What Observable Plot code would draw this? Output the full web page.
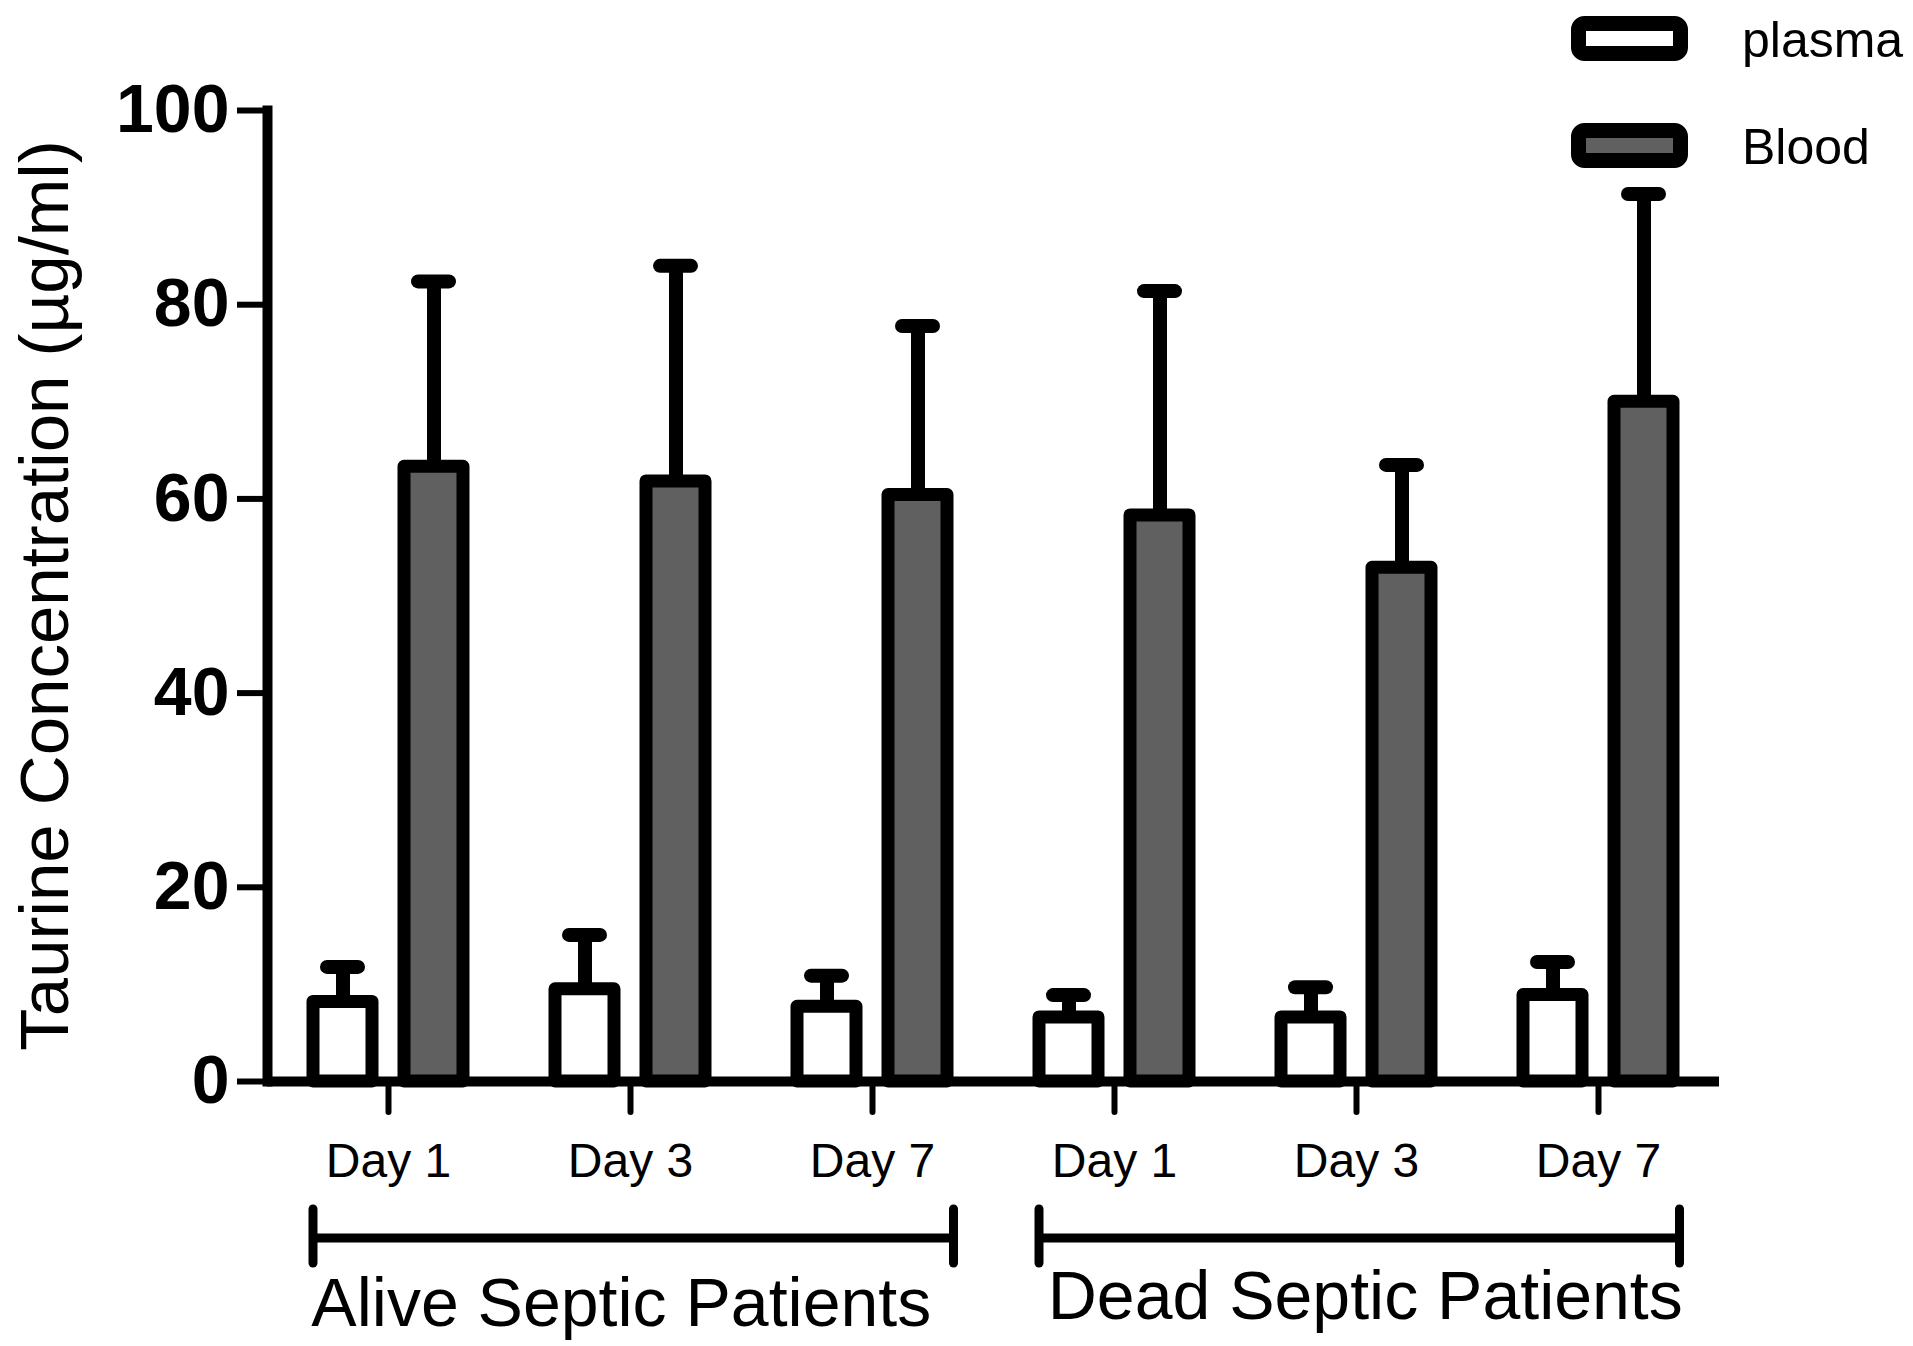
<!DOCTYPE html>
<html><head><meta charset="utf-8">
<script src="https://cdn.jsdelivr.net/npm/d3@7"></script>
<script src="https://cdn.jsdelivr.net/npm/@observablehq/plot@0.6"></script>
<style>
html,body{margin:0;padding:0;background:#fff;}
#chart svg{display:block;font-family:"Liberation Sans",Arial,sans-serif;}
</style></head><body><div id="chart"></div>
<script>
// ---- data ----
const statusGroups = ["Alive Septic Patients", "Dead Septic Patients"];
const dayLabels = ["Day 1", "Day 3", "Day 7", "Day 1", "Day 3", "Day 7"];
const groupStatus = [0, 0, 0, 1, 1, 1];
const seriesNames = ["plasma", "Blood"];
const seriesFill = ["#ffffff", "#606060"];
const plasmaMean  = [8.2, 9.5, 7.7, 6.6, 6.6, 8.9];
const plasmaUpper = [11.8, 15.1, 10.9, 8.9, 9.7, 12.3];
const bloodMean   = [63.3, 61.8, 60.4, 58.3, 52.9, 70.0];
const bloodUpper  = [82.4, 84.0, 77.8, 81.4, 63.5, 91.4];
const yTicks = [0, 20, 40, 60, 80, 100];
const yLabel = "Taurine Concentration (µg/ml)";

const rows = [];
dayLabels.forEach((d, i) => {
  rows.push({group: i, series: seriesNames[0], mean: plasmaMean[i], upper: plasmaUpper[i]});
  rows.push({group: i, series: seriesNames[1], mean: bloodMean[i], upper: bloodUpper[i]});
});

const W = 1913, H = 1346;
const mL = 267, mR = 194, mT = 110, mB = 265;
const font = "Liberation Sans, Arial, sans-serif";

const plot = Plot.plot({
  width: W, height: H,
  marginLeft: mL, marginRight: mR, marginTop: mT, marginBottom: mB,
  style: {fontFamily: font, background: "white", color: "black", overflow: "visible"},
  fx: {domain: d3.range(dayLabels.length), padding: 0},
  x: {domain: seriesNames, paddingInner: 0.352, paddingOuter: 0.5055, axis: null},
  y: {domain: [0, 100]},
  color: {domain: seriesNames, range: seriesFill},
  marks: [
    Plot.barY(rows, {fx: "group", x: "series", y: "mean", fill: "series", stroke: "black", strokeWidth: 13, strokeLinejoin: "round"}),
    Plot.ruleX(rows, {fx: "group", x: "series", y1: "mean", y2: "upper", stroke: "black", strokeWidth: 14}),
    Plot.tickY(rows, {fx: "group", x: "series", y: "upper", stroke: "black", strokeWidth: 14, strokeLinecap: "round", insetLeft: 14, insetRight: 14}),
    Plot.ruleY([0], {stroke: "black", strokeWidth: 10}),
    Plot.frame({anchor: "left", facetAnchor: "left", stroke: "black", strokeWidth: 10}),
    Plot.axisY({ticks: yTicks, tickSize: 30, tickPadding: 8, fontSize: 68, fontWeight: "bold", strokeWidth: 6, label: null}),
    Plot.axisFx({anchor: "bottom", tickSize: 31, tickPadding: 30, fontSize: 48, strokeWidth: 6, strokeLinecap: "round", tickFormat: i => dayLabels[i], label: null})
  ]
});
document.getElementById("chart").appendChild(plot);

// ---- annotations using the plot's scales ----
const svg = d3.select(plot);
const fx = plot.scale("fx");
const xs = plot.scale("x");
const xOff = name => xs.apply(name) - Math.min(...xs.range);
const base = H - mB;

statusGroups.forEach((name, s) => {
  const idx = groupStatus.map((g, i) => g === s ? i : -1).filter(i => i >= 0);
  const first = idx[0], last = idx[idx.length - 1];
  const x1 = fx.apply(first) + xOff(seriesNames[0]);
  const x2 = fx.apply(last) + xOff(seriesNames[1]) + xs.bandwidth + 6.5;
  const g = svg.append("g").attr("stroke", "black").attr("stroke-width", 9);
  g.append("line").attr("x1", x1).attr("x2", x2).attr("y1", base + 157).attr("y2", base + 157);
  g.append("line").attr("x1", x1).attr("x2", x1).attr("y1", base + 128).attr("y2", base + 182).attr("stroke-linecap", "round");
  g.append("line").attr("x1", x2).attr("x2", x2).attr("y1", base + 128).attr("y2", base + 182).attr("stroke-linecap", "round");
  svg.append("text").attr("x", (x1 + x2) / 2 + (s === 0 ? -12 : 6)).attr("y", base + (s === 0 ? 245 : 238))
    .attr("text-anchor", "middle").attr("font-family", font).attr("font-size", 68).attr("fill", "black")
    .text(name);
});

// y-axis title
svg.append("text")
  .attr("transform", `translate(68,${(mT + base) / 2}) rotate(-90)`)
  .attr("text-anchor", "middle").attr("font-family", font).attr("font-size", 69).attr("fill", "black")
  .text(yLabel);

// legend
const color = plot.scale("color");
seriesNames.forEach((name, i) => {
  const ly = 23.5 + i * 107;
  svg.append("rect").attr("x", 1578.5).attr("y", ly).attr("width", 102).attr("height", 30).attr("rx", 6)
    .attr("fill", color.apply(name)).attr("stroke", "black").attr("stroke-width", 15);
  svg.append("text").attr("x", 1742).attr("y", ly + 33).attr("text-anchor", "start")
    .attr("font-family", font).attr("font-size", 50).attr("fill", "black")
    .text(name);
});
</script></body></html>
